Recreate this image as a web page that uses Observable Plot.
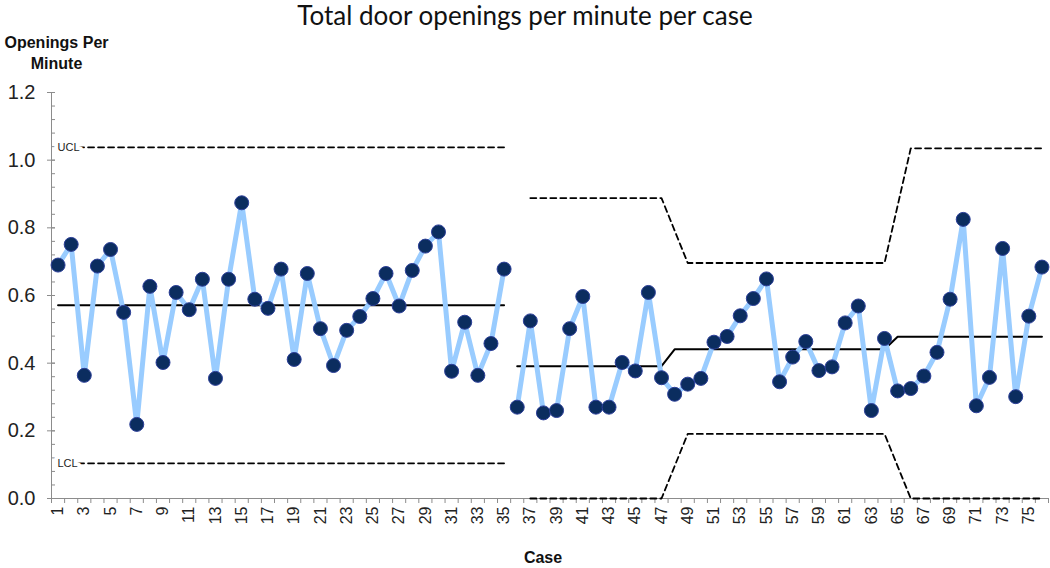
<!DOCTYPE html>
<html>
<head>
<meta charset="utf-8">
<script src="https://cdn.jsdelivr.net/npm/d3@7"></script>
<script src="https://cdn.jsdelivr.net/npm/@observablehq/plot@0.6"></script>
<style>
  html, body { margin: 0; padding: 0; background: #fff; }
  #title { height: 32px; line-height: 30px; text-align: center; font-family: Lato, "Open Sans", sans-serif; font-size: 26px; color: #111; }
  #chart svg { display: block; }
</style>
</head>
<body>
<div id="title">Total door openings per minute per case</div>
<div id="chart"></div>
<script>
// ---- data ----
const openings = [
  0.690, 0.751, 0.364, 0.687, 0.736, 0.550, 0.219, 0.627, 0.402, 0.609,
  0.558, 0.648, 0.355, 0.648, 0.874, 0.589, 0.562, 0.678, 0.411, 0.665,
  0.502, 0.393, 0.497, 0.538, 0.591, 0.665, 0.569, 0.674, 0.746, 0.788,
  0.376, 0.521, 0.364, 0.458, 0.678,
  0.270, 0.525, 0.253, 0.260, 0.502, 0.597, 0.270, 0.270, 0.402, 0.377,
  0.609, 0.357, 0.308, 0.338, 0.355, 0.462, 0.479, 0.540, 0.591, 0.649,
  0.345, 0.418, 0.464, 0.378, 0.389, 0.519, 0.569, 0.260, 0.473, 0.318,
  0.325, 0.362, 0.432, 0.589, 0.825, 0.274, 0.358, 0.739, 0.301, 0.539, 0.684
];
const lastCaseBefore = 35; // the chart splits into two runs after case 35

// stages: [first case, last case, value]
const clStages  = [[1, 35, 0.571], [36, 47, 0.391], [48, 64, 0.441], [65, 76, 0.478]];
const uclStages = [[1, 35, 1.038], [37, 47, 0.888], [49, 64, 0.696], [66, 76, 1.035]];
const lclStages = [[1, 35, 0.104], [37, 47, 0.000], [49, 64, 0.191], [66, 76, 0.000]];

const yMajorTicks = [0, 0.2, 0.4, 0.6, 0.8, 1.0, 1.2];
const yMinorStep = 0.04;
const xLabelTicks = d3.range(1, 77, 2);

// ---- build tables ----
const cases = openings.map((v, i) => ({case: i + 1, value: v, run: i + 1 <= lastCaseBefore ? "A" : "B"}));
function stagePoints(stages) {
  const pts = [];
  for (const [a, b, v] of stages) {
    const run = a <= lastCaseBefore ? "A" : "B";
    pts.push({case: a, value: v, run}, {case: b, value: v, run});
  }
  return pts;
}
const clPts = stagePoints(clStages);
const uclPts = stagePoints(uclStages);
const lclPts = stagePoints(lclStages);
const xBoundaryTicks = d3.range(0.5, 77, 1);
const yMinorTicks = d3.range(0, 1.2001, yMinorStep).map(d => +d.toFixed(2));

const axisColor = "#8c8c8c";
const tickFont = "Liberation Sans, Arial, sans-serif";

const chart = Plot.plot({
  width: 1050,
  height: 536,
  marginLeft: 51,
  marginRight: 2,
  marginTop: 60,
  marginBottom: 70,
  style: {fontFamily: tickFont, background: "#fff"},
  x: {domain: [0.5, 76.5], axis: null},
  y: {domain: [0, 1.2], axis: null},
  marks: [
    Plot.frame({anchor: "left", stroke: axisColor}),
    Plot.frame({anchor: "bottom", stroke: axisColor}),
    Plot.axisY(yMinorTicks, {label: null, tickSize: 4, dx: 4, stroke: axisColor, tickFormat: () => ""}),
    Plot.axisY(yMajorTicks, {label: null, tickSize: 8, dx: 4, tickPadding: 12, stroke: axisColor, tickFormat: d3.format(".1f"), fontSize: 20, fill: "#222"}),
    Plot.axisX(xBoundaryTicks, {label: null, tickSize: 5, stroke: axisColor, tickFormat: () => ""}),
    Plot.axisX(xLabelTicks, {label: null, tickSize: 0, tickPadding: 8, tickRotate: -90, fontSize: 16, fill: "#222"}),
    // limits
    Plot.line(uclPts, {x: "case", y: "value", z: "run", stroke: "#000", strokeWidth: 1.8, strokeDasharray: "6,4"}),
    Plot.line(lclPts, {x: "case", y: "value", z: "run", stroke: "#000", strokeWidth: 1.8, strokeDasharray: "6,4"}),
    Plot.line(clPts, {x: "case", y: "value", z: "run", stroke: "#000", strokeWidth: 2}),
    Plot.text([{label: "UCL", value: uclStages[0][2]}, {label: "LCL", value: lclStages[0][2]}], {
      x: () => 0.5, y: "value", text: "label", textAnchor: "start", dx: 6, fontSize: 11,
      fill: "#222", stroke: "#fff", strokeWidth: 8, paintOrder: "stroke"
    }),
    // series
    Plot.line(cases, {x: "case", y: "value", z: "run", stroke: "#99ccff", strokeWidth: 5}),
    Plot.dot(cases, {x: "case", y: "value", r: 7, fill: "#0b2d5f", stroke: "#2c3f99", strokeWidth: 1}),
    // axis titles
    Plot.text(["Openings Per\nMinute"], {frameAnchor: "top-left", dx: 5, dy: -59, lineAnchor: "top", textAnchor: "middle", fontSize: 16, fontWeight: "bold", fill: "#111", lineHeight: 1.3}),
    Plot.text(["Case"], {frameAnchor: "bottom", dx: -7, dy: 64, fontSize: 16, fontWeight: "bold", fill: "#111"})
  ]
});
document.getElementById("chart").append(chart);
</script>
</body>
</html>
